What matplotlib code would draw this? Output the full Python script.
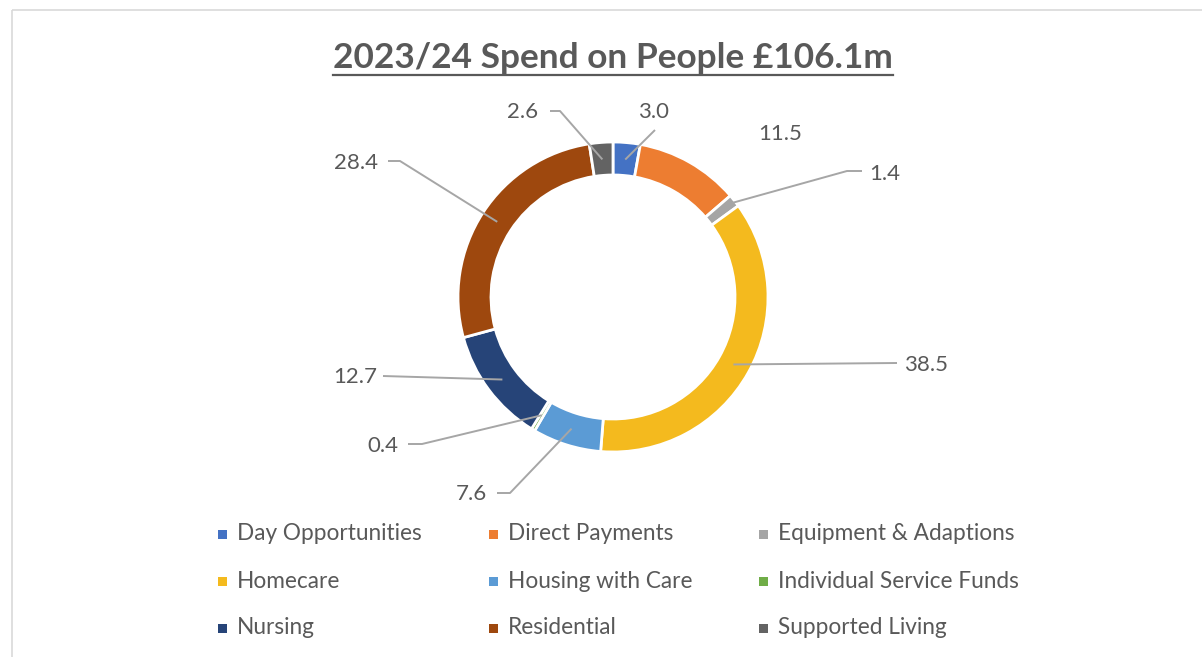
import matplotlib
matplotlib.use('Agg')
import matplotlib.pyplot as plt
from matplotlib.patches import Rectangle
import numpy as np

# data
categories = ['Day Opportunities', 'Direct Payments', 'Equipment & Adaptions',
              'Homecare', 'Housing with Care', 'Individual Service Funds',
              'Nursing', 'Residential', 'Supported Living']
spend = [3.0, 11.5, 1.4, 38.5, 7.6, 0.4, 12.7, 28.4, 2.6]
title = '2023/24 Spend on People £106.1m'

colours = ['#4472C4', '#ED7D31', '#A5A5A5', '#F4BA1E', '#5B9BD5',
           '#70AD47', '#264478', '#9E480E', '#636363']

# layout (pixels, y down)
W, H = 1202, 657
centre = (613, 297)
radius = 155
ring = 33
label_pos = [(654, 112), (780, 134), (885, 174), (926, 365), (471, 494),
             (383, 446), (355, 377), (356, 163), (523, 112)]
leader_pts = [[(655, 130)], None, [(862, 171), (847, 171)], [(897, 363)],
              [(497, 493), (510, 493)], [(408, 444), (422, 444)], [(383, 376)],
              [(388, 161), (400, 161)], [(550, 111), (560, 111)]]
leader_r = [138, 138, 151, 138, 138, 138, 138, 138, 138]

txt_col = '#595959'
plt.rcParams['font.family'] = ['Lato', 'DejaVu Sans']

fig = plt.figure(figsize=(W / 100, H / 100), dpi=100)
ax = fig.add_axes([0, 0, 1, 1])

wedges, _ = ax.pie(spend, colors=colours, center=centre, radius=radius,
                   startangle=-90, counterclock=True,
                   wedgeprops=dict(width=ring, edgecolor='white', linewidth=2.0))
ax.set_xlim(0, W)
ax.set_ylim(H, 0)
ax.set_aspect('auto')
ax.axis('off')

# frame
ax.add_patch(Rectangle((12, 10), W + 20, H + 20, fill=False,
                       edgecolor='#D9D9D9', linewidth=1.2))

# data labels with leader lines
cum = np.cumsum(spend)
total = cum[-1]
mids = (cum - np.array(spend) / 2) / total * 360 - 90
for i, v in enumerate(spend):
    ax.text(label_pos[i][0], label_pos[i][1], f'{v:.1f}', ha='center',
            va='center', fontsize=16, color=txt_col)
    if leader_pts[i] is None:
        continue
    th = np.deg2rad(mids[i])
    ax_pt = (centre[0] + leader_r[i] * np.cos(th), centre[1] + leader_r[i] * np.sin(th))
    pts = leader_pts[i] + [ax_pt]
    ax.plot([p[0] for p in pts], [p[1] for p in pts], color='#A6A6A6', lw=1.4,
            solid_capstyle='butt')

# title with underline
t = ax.text(613, 58, title, ha='center', va='center', fontsize=25.4,
            fontweight='bold', color=txt_col)
fig.canvas.draw()
bb = t.get_window_extent(fig.canvas.get_renderer())
ax.plot([bb.x0, bb.x1], [75, 75], color=txt_col, lw=1.6)

# legend, row by row
for i, name in enumerate(categories):
    r, c = divmod(i, 3)
    x = 218 + c * 270.5
    y = 534 + r * 47
    ax.add_patch(Rectangle((x, y - 4.5), 9, 9, color=colours[i], lw=0))
    ax.text(x + 19, y, name, ha='left', va='center', fontsize=16.3, color=txt_col)

fig.savefig('out.png', dpi=100)
